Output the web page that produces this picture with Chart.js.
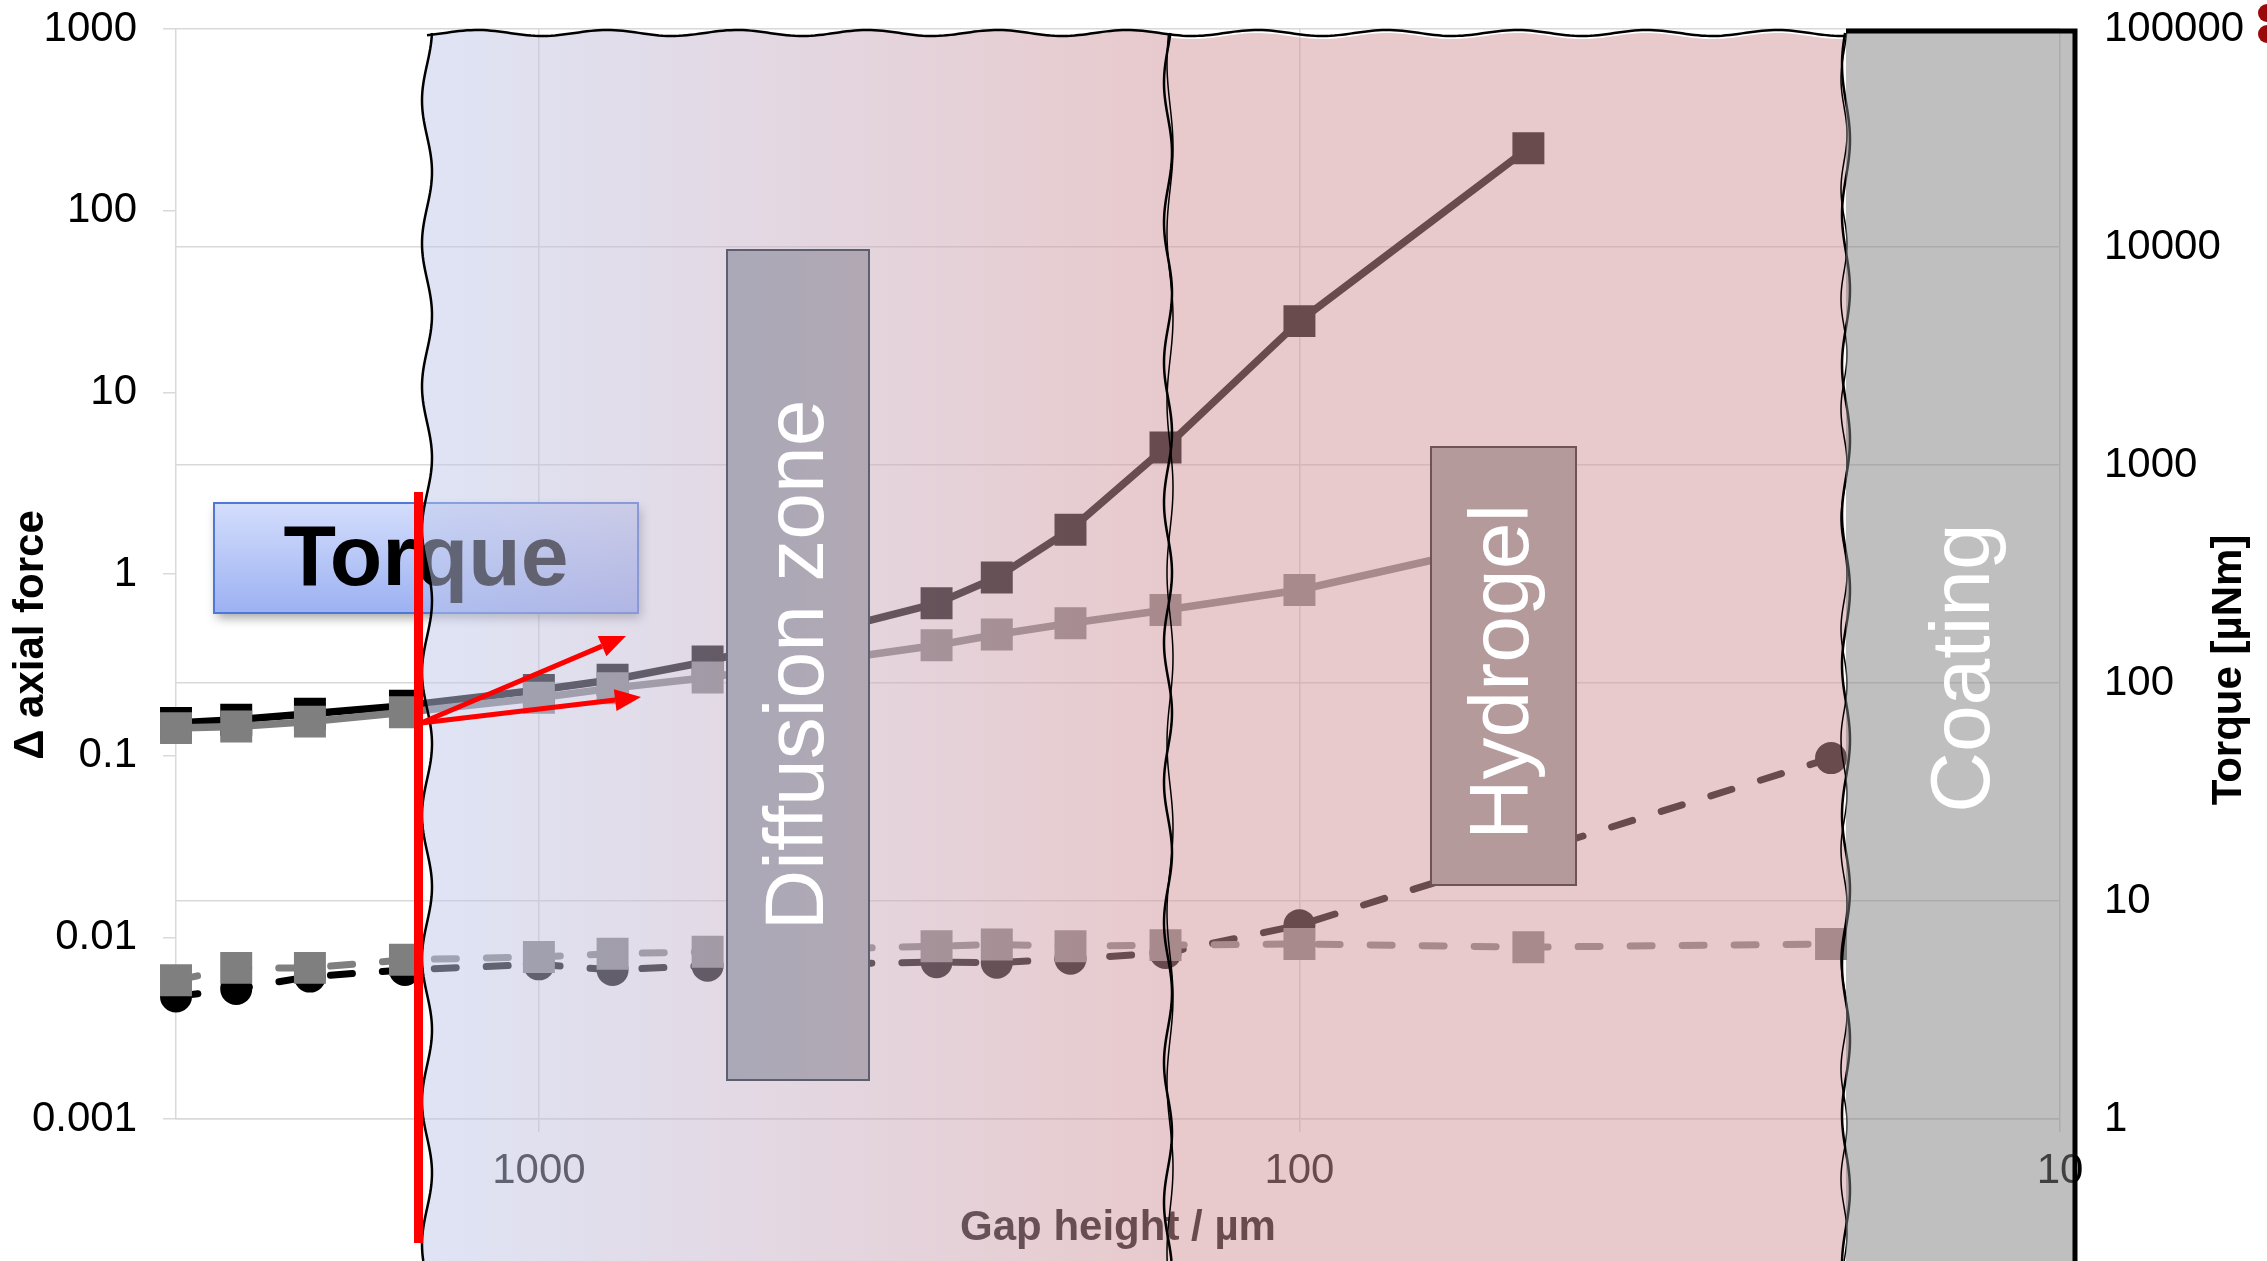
<!DOCTYPE html>
<html>
<head>
<meta charset="utf-8">
<script src="https://cdn.jsdelivr.net/npm/chart.js@4.4.1/dist/chart.umd.min.js"></script>
<style>
  html, body { margin: 0; padding: 0; background: #ffffff; }
  canvas { display: block; }
</style>
</head>
<body>
<canvas id="chart" width="2267" height="1261"></canvas>
<script>
// Gap heights (µm) at which both torque and axial force were recorded
const gapHeights = [3000, 2500, 2000, 1500, 1000, 800, 600, 300, 250, 200, 150, 100, 50, 20];

// Torque [µNm] (right axis)
const torqueHydrogel  = [65.5, 67.8, 72.2, 78.6, 92.9, 103.5, 125.5, 232, 305, 505, 1204, 4570, 28400, null];
const torqueReference = [62.1, 63.1, 66.5, 73.5, 85.5, 94.7, 106, 149, 167, 188, 216, 267, 460, null];

// Δ axial force (left axis)
const forceHydrogel  = [0.00473, 0.0052, 0.00608, 0.00662, 0.0071, 0.00662, 0.00698, 0.0073, 0.00725, 0.00762, 0.0082, 0.01167, null, 0.097];
const forceReference = [0.0058, 0.00679, 0.00679, 0.00753, 0.0078, 0.00813, 0.00832, 0.00894, 0.00914, 0.00894, 0.00906, 0.0092, 0.00883, 0.0092];

// Axis ticks
const gapTicks    = [10, 100, 1000];
const forceTicks  = [0.001, 0.01, 0.1, 1, 10, 100, 1000];
const torqueTicks = [1, 10, 100, 1000, 10000, 100000];

const points = ys => gapHeights.map((x, i) => ({ x, y: ys[i] })).filter(p => p.y !== null);

const FONT = '"Liberation Sans", Arial, Helvetica, sans-serif';
const GRID = '#d9d9d9';

// ---- annotation drawing helpers ----
function vEdge(x0, amp, wl, ph, yA, yB) {
  const p = [], n = Math.ceil(Math.abs(yB - yA) / 4);
  for (let i = 0; i <= n; i++) {
    const y = yA + (yB - yA) * i / n;
    p.push([x0 + amp * Math.sin(2 * Math.PI * y / wl + ph), y]);
  }
  return p;
}
function hEdge(y0, amp, wl, ph, xA, xB) {
  const p = [], n = Math.ceil(Math.abs(xB - xA) / 4);
  for (let i = 0; i <= n; i++) {
    const x = xA + (xB - xA) * i / n;
    p.push([x, y0 + amp * Math.sin(2 * Math.PI * x / wl + ph)]);
  }
  return p;
}
function tracePoly(ctx, pts, move) {
  pts.forEach((q, i) => (i === 0 && move) ? ctx.moveTo(q[0], q[1]) : ctx.lineTo(q[0], q[1]));
}
function strokeLine(ctx, pts, color, w) {
  ctx.beginPath(); tracePoly(ctx, pts, true);
  ctx.strokeStyle = color; ctx.lineWidth = w; ctx.stroke();
}
function arrow(ctx, x0, y0, x1, y1, color) {
  const a = Math.atan2(y1 - y0, x1 - x0), L = 26, W = 11;
  const bx = x1 - L * Math.cos(a), by = y1 - L * Math.sin(a);
  ctx.beginPath(); ctx.moveTo(x0, y0); ctx.lineTo(bx, by);
  ctx.strokeStyle = color; ctx.lineWidth = 5; ctx.stroke();
  ctx.beginPath(); ctx.moveTo(x1, y1);
  ctx.lineTo(bx + W * Math.sin(a), by - W * Math.cos(a));
  ctx.lineTo(bx - W * Math.sin(a), by + W * Math.cos(a));
  ctx.closePath(); ctx.fillStyle = color; ctx.fill();
}
function verticalText(ctx, text, x, y, font, color) {
  ctx.save(); ctx.translate(x, y); ctx.rotate(-Math.PI / 2);
  ctx.font = font; ctx.fillStyle = color; ctx.textAlign = 'center'; ctx.textBaseline = 'middle';
  ctx.fillText(text, 0, 0); ctx.restore();
}

const zones = {
  id: 'zones',
  afterDatasetsDraw(chart) {
    const ctx = chart.ctx;
    const H = chart.height;
    const xL = 427, xM = 1168, xR = 1846, top = 33;

    // "Torque" call-out box
    ctx.save();
    ctx.shadowColor = 'rgba(0,0,0,0.35)'; ctx.shadowBlur = 10; ctx.shadowOffsetX = 3; ctx.shadowOffsetY = 5;
    const tg = ctx.createLinearGradient(0, 503, 0, 613);
    tg.addColorStop(0, '#d3ddfb'); tg.addColorStop(1, '#9cb1f3');
    ctx.fillStyle = tg; ctx.fillRect(214, 503, 424, 110);
    ctx.restore();
    ctx.strokeStyle = '#4f78d6'; ctx.lineWidth = 2; ctx.strokeRect(214, 503, 424, 110);
    ctx.font = 'bold 86px ' + FONT; ctx.fillStyle = '#000'; ctx.textAlign = 'center'; ctx.textBaseline = 'middle';
    ctx.fillText('Torque', 426, 561);

    // translucent zone bands
    const topA = hEdge(top, 3, 130, 0.5, xL, xM);
    const midE = vEdge(xM, 4, 140, 1.0, top, H);
    const leftE = vEdge(xL, 5, 143, 0.3, H, top);
    ctx.save();
    ctx.beginPath(); tracePoly(ctx, topA, true); tracePoly(ctx, midE, false);
    ctx.lineTo(xL, H); tracePoly(ctx, leftE, false); ctx.closePath();
    const zg = ctx.createLinearGradient(xL, 0, xM, 0);
    zg.addColorStop(0, 'rgba(191,201,235,0.5)');
    zg.addColorStop(1, 'rgba(209,149,155,0.5)');
    ctx.fillStyle = zg; ctx.fill();

    const topB = hEdge(top + 3, 3, 130, 0.5, xM, xR);
    const rightE = vEdge(xR, 4, 150, 2.0, top, H);
    ctx.beginPath(); tracePoly(ctx, topB, true); tracePoly(ctx, rightE, false);
    ctx.lineTo(xM, H); tracePoly(ctx, vEdge(xM, 4, 140, 1.0, H, top), false); ctx.closePath();
    ctx.fillStyle = 'rgba(209,149,155,0.5)'; ctx.fill();
    ctx.restore();

    // wavy outlines
    strokeLine(ctx, hEdge(top, 3, 130, 0.5, xL, xR), '#000', 2.5);
    strokeLine(ctx, vEdge(xL, 5, 143, 0.3, top, H), '#000', 2.5);
    strokeLine(ctx, vEdge(xM, 4, 140, 1.0, top, H), '#000', 2.5);
    strokeLine(ctx, vEdge(xM + 2, 3, 170, 2.4, top, H), '#000', 1.5);
    strokeLine(ctx, vEdge(xR, 4, 150, 2.0, top, H), '#000', 2.5);
    strokeLine(ctx, vEdge(xR - 2, 3, 110, 0.2, top, H), '#000', 1.5);

    // Diffusion zone
    const dg = ctx.createLinearGradient(727, 0, 869, 0);
    dg.addColorStop(0, '#aaa8b8'); dg.addColorStop(1, '#b2a8b4');
    ctx.fillStyle = dg; ctx.fillRect(727, 250, 142, 830);
    ctx.strokeStyle = '#5e5f6e'; ctx.lineWidth = 2; ctx.strokeRect(727, 250, 142, 830);
    verticalText(ctx, 'Diffusion zone', 800, 665, '84px ' + FONT, '#ffffff');

    // Hydrogel
    ctx.fillStyle = '#b59a9c'; ctx.fillRect(1431, 447, 145, 438);
    ctx.strokeStyle = '#6e5457'; ctx.lineWidth = 2; ctx.strokeRect(1431, 447, 145, 438);
    verticalText(ctx, 'Hydrogel', 1505, 672, '84px ' + FONT, '#ffffff');

    // Coating
    ctx.fillStyle = 'rgba(128,128,128,0.5)'; ctx.fillRect(xR, 31, 2075 - xR, H - 31);
    ctx.strokeStyle = '#000'; ctx.lineWidth = 5;
    ctx.beginPath(); ctx.moveTo(xR, 31); ctx.lineTo(2075, 31); ctx.lineTo(2075, H); ctx.stroke();
    verticalText(ctx, 'Coating', 1966, 668, '84px ' + FONT, '#ffffff');

    // red marker line and arrows
    ctx.fillStyle = '#ff0000'; ctx.fillRect(414, 492, 9, 751);
    arrow(ctx, 421, 723, 626, 636, '#ff0000');
    arrow(ctx, 421, 723, 641, 697, '#ff0000');
  },
  afterDraw(chart) {
    const ctx = chart.ctx;
    verticalText(ctx, 'Δ axial force', 31, 635, 'bold 42px ' + FONT, '#000');
    verticalText(ctx, 'Torque [µNm]', 2229, 670, 'bold 42px ' + FONT, '#000');
    ctx.fillStyle = '#9b0a0a';
    ctx.beginPath(); ctx.arc(2267, 13, 9, 0, 2 * Math.PI); ctx.fill();
    ctx.beginPath(); ctx.arc(2267, 34, 9, 0, 2 * Math.PI); ctx.fill();
  }
};

const solid = (label, ys, color, order) => ({
  label, data: points(ys), yAxisID: 'yT', order,
  borderColor: color, backgroundColor: color, borderWidth: 7.5,
  pointStyle: 'rect', pointRadius: 22.6, pointBorderWidth: 0, pointBackgroundColor: color,
  tension: 0, clip: false
});
const dashed = (label, ys, color, style, radius, order) => ({
  label, data: points(ys), yAxisID: 'yF', order,
  borderColor: color, backgroundColor: color, borderWidth: 7,
  borderDash: [22, 30], borderCapStyle: 'round',
  pointStyle: style, pointRadius: radius, pointBorderWidth: 0, pointBackgroundColor: color,
  tension: 0, clip: false
});

const logTicks = list => scale => { scale.ticks = list.map(v => ({ value: v })); };
// fixed box sizes; label overflow must not push the plot area around
const fixY = w => s => { s.width = w; s.paddingTop = 0; s.paddingBottom = 0; };
const fixX = h => s => { s.height = h; s.paddingLeft = 0; s.paddingRight = 0; };

new Chart(document.getElementById('chart'), {
  type: 'line',
  data: {
    datasets: [
      solid('Torque, reference', torqueReference, '#7f7f7f', 1),
      solid('Torque, hydrogel', torqueHydrogel, '#000000', 2),
      dashed('Δ axial force, reference', forceReference, '#7f7f7f', 'rect', 22.6, 3),
      dashed('Δ axial force, hydrogel', forceHydrogel, '#000000', 'circle', 16, 4)
    ]
  },
  options: {
    responsive: false,
    devicePixelRatio: 1,
    animation: false,
    layout: { padding: { top: 29, left: 0, right: 0, bottom: 0 } },
    plugins: { legend: { display: false }, tooltip: { enabled: false } },
    scales: {
      x: {
        type: 'logarithmic', reverse: true, min: 10, max: 3000,
        afterBuildTicks: logTicks(gapTicks),
        afterFit: fixX(142),
        ticks: { color: '#000', font: { family: FONT, size: 42 }, padding: 14, maxRotation: 0, callback: v => String(v) },
        grid: { color: GRID, lineWidth: 1.5, tickLength: 13 },
        border: { color: GRID, width: 1.5 },
        title: { display: true, text: 'Gap height / µm', color: '#000', font: { family: FONT, size: 42, weight: 'bold' }, padding: { top: 0, bottom: 7 } }
      },
      yF: {
        type: 'logarithmic', position: 'left', min: 0.001, max: 1000,
        afterBuildTicks: logTicks(forceTicks),
        afterFit: fixY(176),
        ticks: { color: '#000', font: { family: FONT, size: 42 }, padding: 26, callback: v => String(v) },
        grid: { drawOnChartArea: false, color: GRID, lineWidth: 1.5, tickLength: 13 },
        border: { color: GRID, width: 1.5 }
      },
      yT: {
        type: 'logarithmic', position: 'right', min: 1, max: 100000,
        afterBuildTicks: logTicks(torqueTicks),
        afterFit: fixY(207),
        ticks: { color: '#000', font: { family: FONT, size: 42 }, padding: 44, callback: v => String(v) },
        grid: { color: GRID, lineWidth: 1.5, drawTicks: false },
        border: { display: false }
      }
    }
  },
  plugins: [zones]
});
</script>
</body>
</html>
